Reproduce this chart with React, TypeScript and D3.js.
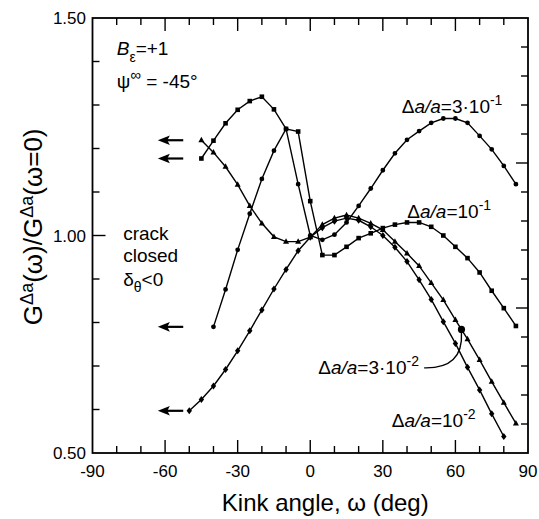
import { useEffect, useRef } from "react";
import * as d3 from "d3";

// kink angle (deg) and G(omega)/G(omega=0) for each crack extension da/a
const omega3e1 = [-40, -35, -30, -25, -20, -15, -10, -5, 0, 5, 10, 15, 20, 25, 30, 35, 40, 45, 50, 55, 60, 65, 70, 75, 80, 85];
const g3e1 = [0.79, 0.876, 0.967, 1.05, 1.13, 1.195, 1.245, 1.118, 1.0, 0.99, 1.002, 1.03, 1.068, 1.108, 1.15, 1.189, 1.22, 1.24, 1.259, 1.269, 1.269, 1.259, 1.229, 1.198, 1.16, 1.118];

const omega1e1 = [-45, -40, -35, -30, -25, -20, -15, -10, -5, 0, 5, 10, 15, 20, 25, 30, 35, 40, 45, 50, 55, 60, 65, 70, 75, 80, 85];
const g1e1 = [1.177, 1.218, 1.258, 1.289, 1.309, 1.319, 1.29, 1.245, 1.239, 1.079, 0.955, 0.955, 0.974, 0.994, 1.005, 1.017, 1.025, 1.03, 1.03, 1.02, 1.0, 0.974, 0.948, 0.915, 0.873, 0.833, 0.792];

const omega3e2 = [-45, -40, -35, -30, -25, -20, -15, -10, -5, 0, 5, 10, 15, 20, 25, 30, 35, 40, 45, 50, 55, 60, 65, 70, 75, 80, 85];
const g3e2 = [1.219, 1.191, 1.158, 1.117, 1.068, 1.028, 0.997, 0.986, 0.986, 0.996, 1.025, 1.04, 1.047, 1.04, 1.028, 1.013, 0.986, 0.959, 0.93, 0.891, 0.852, 0.806, 0.762, 0.714, 0.664, 0.616, 0.568];

const omega1e2 = [-50, -45, -40, -35, -30, -25, -20, -15, -10, -5, 0, 5, 10, 15, 20, 25, 30, 35, 40, 45, 50, 55, 60, 65, 70, 75, 80];
const g1e2 = [0.597, 0.623, 0.654, 0.692, 0.735, 0.781, 0.829, 0.877, 0.922, 0.965, 0.996, 1.018, 1.033, 1.04, 1.035, 1.02, 1.0, 0.973, 0.94, 0.898, 0.853, 0.802, 0.752, 0.697, 0.645, 0.59, 0.538];

const omegaTickLabels = [-90, -60, -30, 0, 30, 60, 90];
const gTickLabels = ["0.50", "1.00", "1.50"];

// arrows marking the closed-crack limit, from / to (deg)
const arrowTail = -52.5;
const arrowTip = -63;

// where the 3·10^-2 leader points
const calloutOmega = 62.5;

type Part = { t: string; italic?: boolean; size?: number; dy?: number };

const series = [
  { omega: omega3e1, g: g3e1, marker: "circle" },
  { omega: omega1e1, g: g1e1, marker: "square" },
  { omega: omega3e2, g: g3e2, marker: "triangle" },
  { omega: omega1e2, g: g1e2, marker: "diamond" },
];

function markerPath(kind: string, cx: number, cy: number) {
  if (kind === "circle") return `M${cx - 2.4},${cy}a2.4,2.4 0 1,0 4.8,0a2.4,2.4 0 1,0 -4.8,0Z`;
  if (kind === "square") return `M${cx - 2.3},${cy - 2.3}h4.6v4.6h-4.6Z`;
  if (kind === "triangle") return `M${cx},${cy - 3.4}L${cx + 3},${cy + 2.1}L${cx - 3},${cy + 2.1}Z`;
  return `M${cx},${cy - 3.5}L${cx + 2.7},${cy}L${cx},${cy + 3.5}L${cx - 2.7},${cy}Z`;
}

export default function App() {
  const ref = useRef<SVGSVGElement>(null);

  useEffect(() => {
    const svg = d3.select(ref.current);
    svg.selectAll("*").remove();

    const left = 92.5, right = 528, top = 18, bottom = 453;
    const x = d3.scaleLinear().domain([-90, 90]).range([left, right]);
    const y = d3.scaleLinear().domain([0.5, 1.5]).range([bottom, top]);

    const root = svg.append("g")
      .attr("font-family", "'Liberation Sans', Arial, Helvetica, sans-serif")
      .attr("fill", "#000");

    const rich = (px: number, py: number, parts: Part[], size: number, anchor = "start") => {
      const text = root.append("text")
        .attr("x", px).attr("y", py)
        .attr("font-size", size)
        .attr("text-anchor", anchor)
        .style("white-space", "pre");
      parts.forEach(p => {
        const ts = text.append("tspan").text(p.t);
        if (p.italic) ts.attr("font-style", "italic");
        if (p.size) ts.attr("font-size", p.size);
        if (p.dy) ts.attr("dy", p.dy);
      });
      return text;
    };

    // frame
    root.append("rect")
      .attr("x", left).attr("y", top)
      .attr("width", right - left).attr("height", bottom - top)
      .attr("fill", "none").attr("stroke", "#000").attr("stroke-width", 1.8);

    // ticks (all pointing inward)
    const ticks = root.append("g").attr("stroke", "#000").attr("stroke-width", 1.4);
    d3.range(-80, 90, 10).forEach(v => {
      const len = v % 30 === 0 ? 13 : 7;
      ticks.append("line").attr("x1", x(v)).attr("x2", x(v)).attr("y1", bottom).attr("y2", bottom - len);
      ticks.append("line").attr("x1", x(v)).attr("x2", x(v)).attr("y1", top).attr("y2", top + len);
    });
    d3.range(1, 10).forEach(i => {
      const v = 0.5 + i * 0.1;
      const len = i === 5 ? 13 : 7;
      ticks.append("line").attr("x1", left).attr("x2", left + len).attr("y1", y(v)).attr("y2", y(v));
    });
    d3.range(1, 15).forEach(k => {
      const py = bottom - k * (bottom - top) / 15;
      const len = k % 5 === 0 ? 12 : 7;
      ticks.append("line").attr("x1", right).attr("x2", right - len).attr("y1", py).attr("y2", py);
    });

    // tick labels
    root.append("g").attr("font-size", 17).attr("text-anchor", "middle")
      .selectAll("text").data(omegaTickLabels).join("text")
      .attr("x", d => x(d)).attr("y", 477)
      .text(d => String(d));
    root.append("g").attr("font-size", 17).attr("text-anchor", "end")
      .selectAll("text").data(gTickLabels).join("text")
      .attr("x", 86).attr("y", d => y(+d) + 6)
      .text(d => d);

    // axis titles
    rich(x(0) + 15, 511, [{ t: "Kink angle, ω (deg)" }], 24, "middle");
    rich(0, 0, [
      { t: "G" }, { t: "Δa", size: 18, dy: -9 }, { t: "(ω)/G", dy: 9 },
      { t: "Δa", size: 18, dy: -9 }, { t: "(ω=0)", dy: 9 },
    ], 26, "middle").attr("transform", `translate(42,${y(1.02)}) rotate(-90)`);

    // curves
    const line = d3.line<[number, number]>().x(d => x(d[0])).y(d => y(d[1]));
    series.forEach(s => {
      const pts: [number, number][] = s.omega.map((o, i) => [o, s.g[i]]);
      root.append("path").attr("d", line(pts)!)
        .attr("fill", "none").attr("stroke", "#000").attr("stroke-width", 1.4);
      root.append("g").selectAll("path").data(pts).join("path")
        .attr("d", d => markerPath(s.marker, x(d[0]), y(d[1])));
    });

    // closed-crack arrows at each curve's starting value
    series.forEach(s => {
      const py = y(s.g[0]);
      const tip = x(arrowTip);
      root.append("line").attr("x1", x(arrowTail)).attr("x2", tip + 8).attr("y1", py).attr("y2", py)
        .attr("stroke", "#000").attr("stroke-width", 2.2);
      root.append("path")
        .attr("d", `M${tip},${py}L${tip + 12},${py - 4.8}L${tip + 9.5},${py}L${tip + 12},${py + 4.8}Z`);
    });

    // annotations
    rich(x(-80), y(1.415), [{ t: "B", italic: true }, { t: "ε", size: 14, dy: 7 }, { t: "=+1", dy: -7 }], 19);
    rich(x(-80), y(1.34), [{ t: "ψ" }, { t: "∞", size: 15, dy: -8 }, { t: " = -45°", dy: 8 }], 19);
    rich(x(-77.3), y(0.99), [{ t: "crack" }], 19);
    rich(x(-77.3), y(0.94), [{ t: "closed" }], 19);
    rich(x(-77.3), y(0.885), [{ t: "δ" }, { t: "θ", size: 14, dy: 6 }, { t: "<0", dy: -6 }], 19);

    const daLabel = (o: number, g: number, value: string, exp: string) =>
      rich(x(o), y(g), [
        { t: "Δ" }, { t: "a/a", italic: true }, { t: "=" + value },
        { t: exp, size: 14, dy: -8 },
      ], 19);
    daLabel(37.8, 1.281, "3·10", "-1");
    daLabel(40.1, 1.0395, "10", "-1");
    const lab3e2 = daLabel(3.3, 0.682, "3·10", "-2");
    daLabel(33.7, 0.56, "10", "-2");

    // callout on the 3·10^-2 curve
    const i0 = omega3e2.findIndex(o => o > calloutOmega) - 1;
    const t = (calloutOmega - omega3e2[i0]) / (omega3e2[i0 + 1] - omega3e2[i0]);
    const calloutG = g3e2[i0] + t * (g3e2[i0 + 1] - g3e2[i0]);
    const dx = x(calloutOmega), dyp = y(calloutG);
    const bb = (lab3e2.node() as SVGTextElement).getBBox();
    const sx = bb.x + bb.width + 5, sy = y(0.682) - 6;
    root.append("path")
      .attr("d", `M${sx},${sy}Q${dx + 2},${sy + 1} ${dx},${dyp + 3}`)
      .attr("fill", "none").attr("stroke", "#000").attr("stroke-width", 1.4);
    root.append("circle").attr("cx", dx).attr("cy", dyp).attr("r", 3.6);
  }, []);

  return (
    <svg
      ref={ref}
      width={539}
      height={519}
      style={{ position: "absolute", left: 0, top: 0, background: "#fff" }}
    />
  );
}
